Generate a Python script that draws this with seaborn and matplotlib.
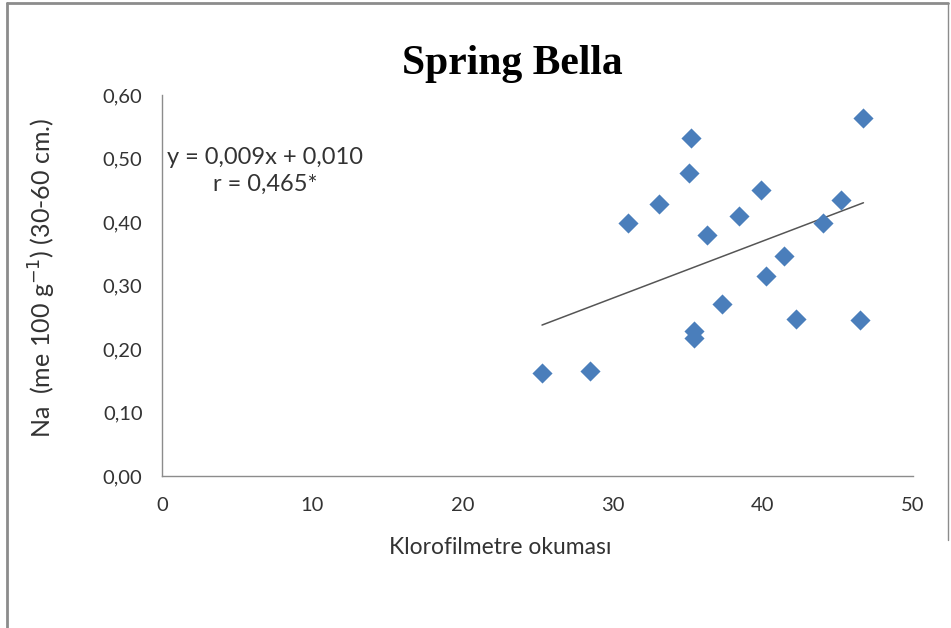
# Spring Bella - Na vs klorofilmetre okumasi scatter with trend line

import numpy as np
import pandas as pd
import matplotlib
matplotlib.use("Agg")
import matplotlib.pyplot as plt
import seaborn as sns
from matplotlib.ticker import FuncFormatter
from matplotlib.lines import Line2D


# Data
klorofil = [25.3, 28.5, 31.0, 33.1, 35.2, 35.1, 35.4, 35.4, 36.3, 37.3,
            38.4, 39.9, 40.2, 41.4, 42.2, 44.0, 45.2, 46.5, 46.7]
na = [0.162, 0.166, 0.398, 0.428, 0.533, 0.477, 0.228, 0.217, 0.380, 0.271,
      0.410, 0.451, 0.315, 0.346, 0.248, 0.398, 0.434, 0.245, 0.563]

# Trend line as printed on the chart
slope = 0.009
intercept = 0.010

x_ticks = [0, 10, 20, 30, 40, 50]
y_ticks = [0.0, 0.1, 0.2, 0.3, 0.4, 0.5, 0.6]

df = pd.DataFrame({"klorofil": klorofil, "na": na})

trend_x = np.array([min(klorofil), max(klorofil)])
trend = pd.DataFrame({"x": trend_x, "y": slope * trend_x + intercept})


sns.set_style("white")
plt.rcParams["font.family"] = ["Lato", "DejaVu Sans"]

fig = plt.figure(figsize=(9.51, 6.28), dpi=100)
ax = fig.add_axes([162 / 951, 1 - 476 / 628, (913 - 162) / 951, (476 - 95) / 628])

sns.lineplot(
    data=trend,
    x="x",
    y="y",
    color="#555555",
    linewidth=1.1,
    ax=ax
)

sns.scatterplot(
    data=df,
    x="klorofil",
    y="na",
    marker="D",
    s=105,
    color="#4A7EBB",
    linewidth=0,
    ax=ax,
    zorder=3
)

ax.set_xlim(0, 50)
ax.set_ylim(0, 0.6)
ax.set_xticks(x_ticks)
ax.set_yticks(y_ticks)
ax.yaxis.set_major_formatter(FuncFormatter(lambda v, p: f"{v:.2f}".replace(".", ",")))

for side in ["top", "right"]:
    ax.spines[side].set_visible(False)
for side in ["left", "bottom"]:
    ax.spines[side].set_color("#8C8C8C")
    ax.spines[side].set_linewidth(1.0)

ax.tick_params(axis="both", which="major", direction="out", length=7, width=1,
               color="#8C8C8C", labelsize=14.5, labelcolor="#333333")
ax.tick_params(axis="y", pad=7)
ax.tick_params(axis="x", pad=8)

ax.set_xlabel("")
ax.set_ylabel("")

# Titles and labels
fig.text(512 / 951, 1 - 74 / 628, "Spring Bella", ha="center", va="baseline",
         fontsize=30, fontweight="bold", family="Liberation Serif", color="black")

fig.text(500 / 951, 1 - 548 / 628, "Klorofilmetre okuması", ha="center", va="center",
         fontsize=16.5, color="#333333")

fig.text(42 / 951, 1 - 278 / 628, "Na  (me 100 g$^{-1}$) (30-60 cm.)", ha="center",
         va="center", rotation=90, fontsize=18, color="#333333")

fig.text(265 / 951, 1 - 171 / 628, "y = 0,009x + 0,010\nr = 0,465*", ha="center",
         va="center", multialignment="center", fontsize=17, color="#333333",
         linespacing=1.3)

# Chart frame
fig.add_artist(Line2D([7 / 951, 7 / 951], [0, 1 - 3 / 628], transform=fig.transFigure,
                      color="#8C8C8C", linewidth=2))
fig.add_artist(Line2D([7 / 951, 948 / 951], [1 - 3 / 628, 1 - 3 / 628],
                      transform=fig.transFigure, color="#8C8C8C", linewidth=2))
fig.add_artist(Line2D([948 / 951, 948 / 951], [1 - 540 / 628, 1 - 3 / 628],
                      transform=fig.transFigure, color="#8C8C8C", linewidth=1))

plt.savefig("out.png", dpi=100)
